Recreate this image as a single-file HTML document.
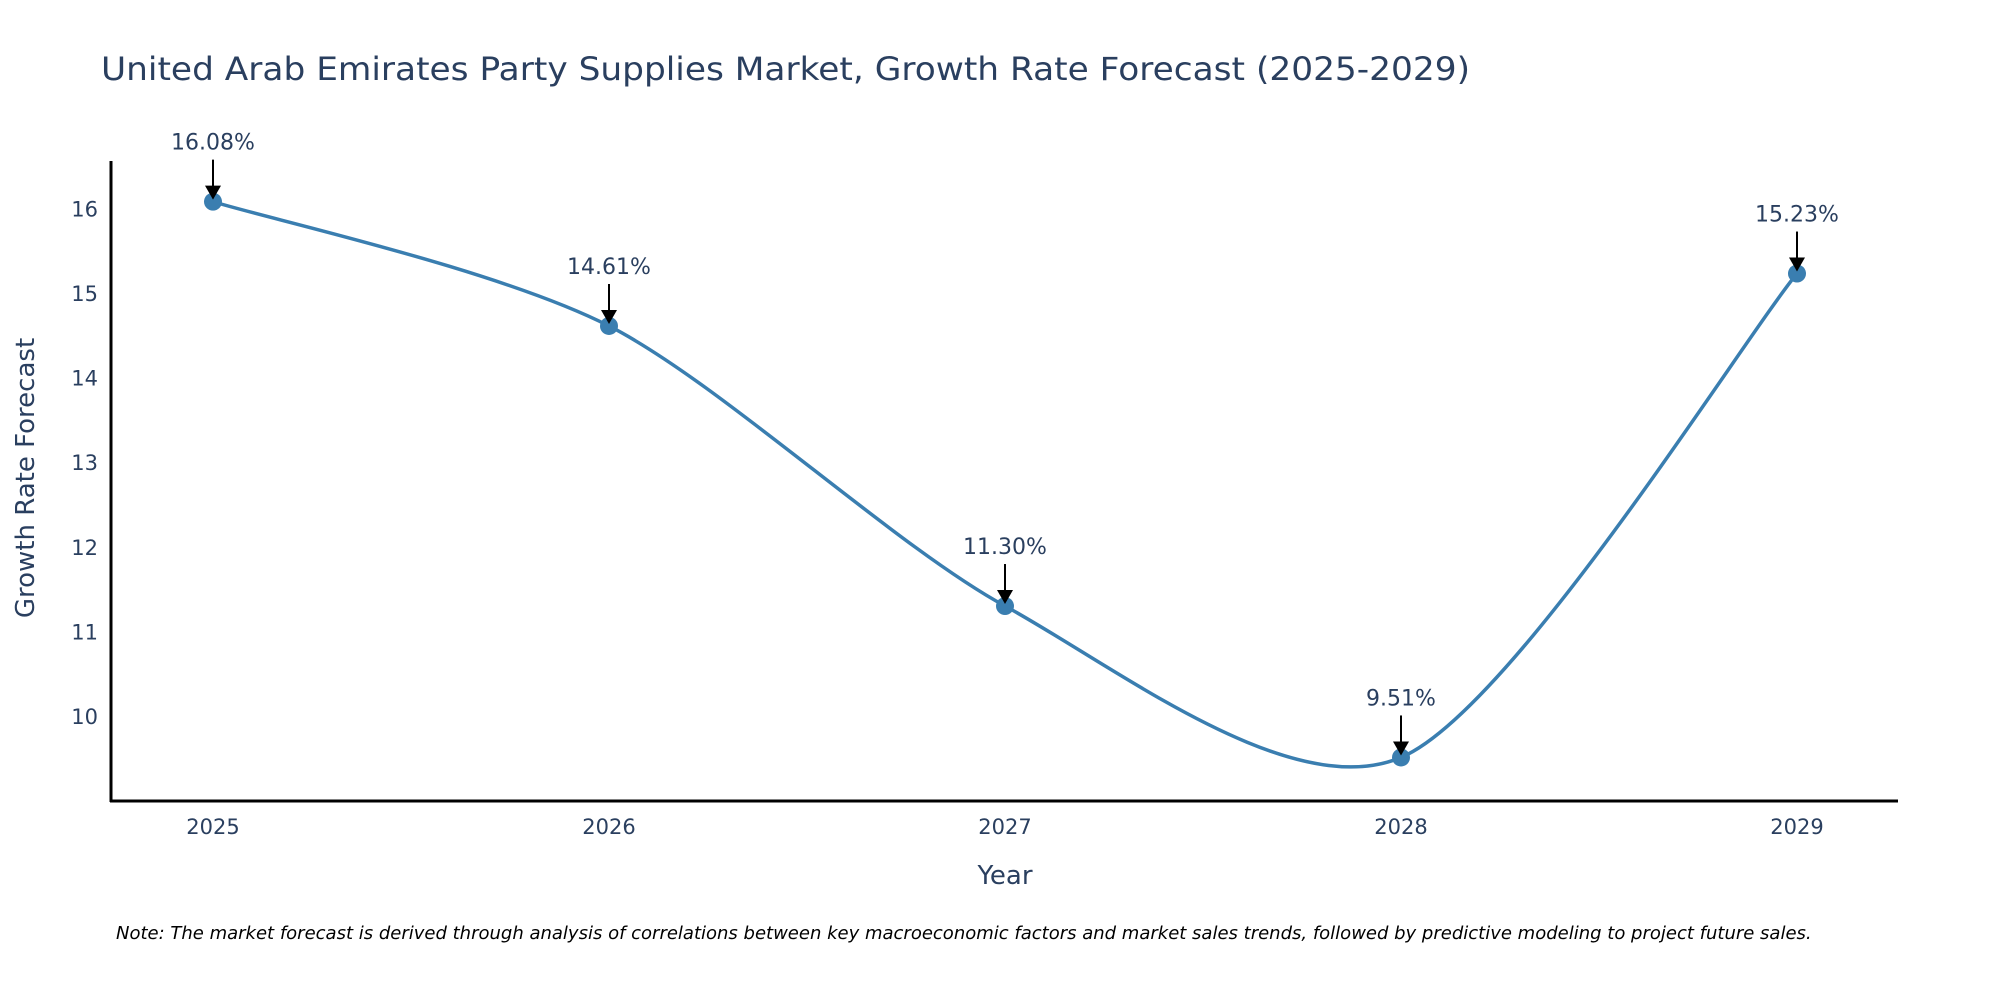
<!DOCTYPE html>
<html><head><meta charset="utf-8"><style>
html,body{margin:0;padding:0;background:#fff;overflow:hidden;}
svg{display:block;font-family:"DejaVu Sans","Liberation Sans",sans-serif;}
</style></head><body>
<svg id="chart" width="2000" height="1000">
<text x="101" y="80" font-size="32" fill="#2a3f5f" textLength="1369" lengthAdjust="spacingAndGlyphs">United Arab Emirates Party Supplies Market, Growth Rate Forecast (2025-2029)</text>
<g id="yticks"></g>
<g id="xticks"></g>
<line x1="111" y1="161" x2="111" y2="802" stroke="#000" stroke-width="3"/>
<line x1="110" y1="801" x2="1898" y2="801" stroke="#000" stroke-width="3"/>
<text x="1005" y="884" font-size="26" fill="#2a3f5f" text-anchor="middle">Year</text>
<text transform="translate(34,478) rotate(-90)" font-size="26" fill="#2a3f5f" text-anchor="middle">Growth Rate Forecast</text>
<g id="series"></g>
<g id="annots"></g>
<text x="116" y="939" font-size="18" font-style="italic" fill="#000">Note: The market forecast is derived through analysis of correlations between key macroeconomic factors and market sales trends, followed by predictive modeling to project future sales.</text>
</svg>
<script>
const years = ["2025","2026","2027","2028","2029"];
const values = [16.08, 14.61, 11.30, 9.51, 15.23];
const labels = ["16.08%","14.61%","11.30%","9.51%","15.23%"];
const yTicks = [10,11,12,13,14,15,16];

const NS="http://www.w3.org/2000/svg";
function xs(i){return 213+i*396;}
function ys(v){return 716-(v-10)*84.6;}
function mk(tag,attrs,parent,text){const e=document.createElementNS(NS,tag);for(const k in attrs)e.setAttribute(k,attrs[k]);if(text!==undefined)e.textContent=text;parent.appendChild(e);return e;}

const yt=document.getElementById('yticks');
yTicks.forEach(t=>{
  const e=mk('text',{x:98,y:ys(t)+8,'font-size':21,fill:'#2a3f5f','text-anchor':'end'},yt,String(t));
  
  
});
const xt=document.getElementById('xticks');
years.forEach((y,i)=>{
  const e=mk('text',{x:xs(i),y:834,'font-size':21,fill:'#2a3f5f','text-anchor':'middle'},xt,y);
  
  
});

const pts=values.map((v,i)=>[xs(i),ys(v)]);
let d=`M${pts[0][0]},${pts[0][1]}`;
for(let i=0;i<pts.length-1;i++){
  const p0=pts[Math.max(0,i-1)],p1=pts[i],p2=pts[i+1],p3=pts[Math.min(pts.length-1,i+2)];
  const k=0.14;
  const c1=[p1[0]+(p2[0]-p0[0])*k,p1[1]+(p2[1]-p0[1])*k];
  const c2=[p2[0]-(p3[0]-p1[0])*k,p2[1]-(p3[1]-p1[1])*k];
  d+=` C${c1[0]},${c1[1]} ${c2[0]},${c2[1]} ${p2[0]},${p2[1]}`;
}
const sg=document.getElementById('series');
const line=mk('path',{d:d,fill:'none',stroke:'#3a7eb0','stroke-width':3.5},sg);


pts.forEach(p=>{
  const c=mk('circle',{cx:p[0],cy:p[1],r:9,fill:'#3a7eb0'},sg);
  
  
});
const ag=document.getElementById('annots');
pts.forEach((p,i)=>{
  const l=mk('line',{x1:p[0],y1:p[1]-42,x2:p[0],y2:p[1]-14,stroke:'#000','stroke-width':2},ag);
  
  
  const h=mk('path',{d:`M${p[0]-8},${p[1]-16} L${p[0]+8},${p[1]-16} L${p[0]},${p[1]-2} Z`,fill:'#000'},ag);
  
  
  const t=mk('text',{x:p[0],y:p[1]-52,'font-size':22,fill:'#2a3f5f','text-anchor':'middle'},ag,labels[i]);
  
  
});
</script>
</body></html>
